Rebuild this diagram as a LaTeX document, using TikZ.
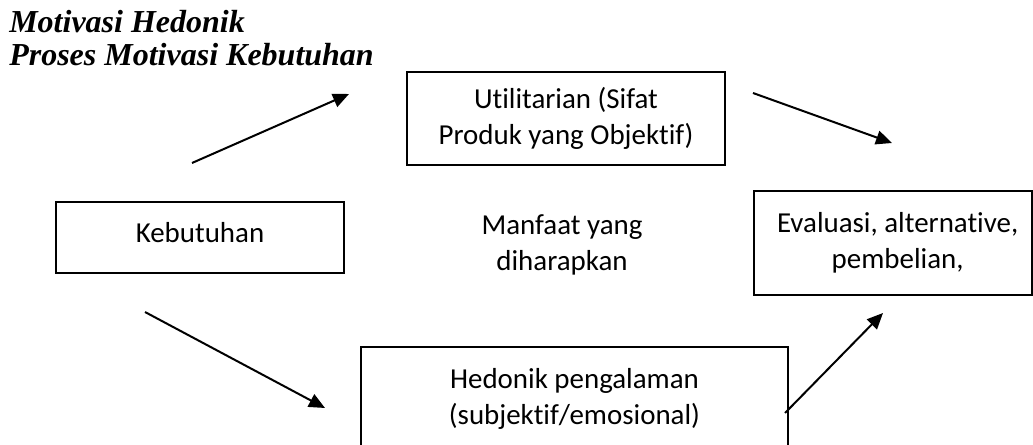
\documentclass[tikz,border=0pt]{standalone}
\usepackage{fontspec}
\setmainfont{Carlito}[RawFeature=-liga]
\newfontfamily\titlefont{Liberation Serif}
\usetikzlibrary{arrows.meta}

\begin{document}
\begin{tikzpicture}[x=0.75pt,y=-0.75pt,
  kotak/.style={draw, line width=1.1pt, rectangle, align=center, inner sep=0pt,
    font=\fontsize{21.7}{27}\selectfont},
  judul/.style={anchor=base west, inner sep=0pt, font=\titlefont\bfseries\itshape\fontsize{24}{25}\selectfont},
  panah/.style={line width=1.5pt, -{Triangle[length=12pt, width=10.5pt]}}]
\clip (0,0) rectangle (1033,445);
\node[judul] (j1) at (9,33) {Motivasi Hedonik};
\node[judul] (j2) at (9,66) {Proses Motivasi Kebutuhan};
\node[kotak, minimum width=216pt, minimum height=53.25pt, text height=15pt, text depth=8pt] (keb) at (200,237.5) {Kebutuhan};
\node[kotak, minimum width=238.5pt, minimum height=69.75pt] (util) at (566,118.5) {Utilitarian (Sifat\\Produk yang Objektif)};
\node[kotak, minimum width=208.5pt, minimum height=78pt] (eval) at (893,243) {\hspace*{7pt}Evaluasi, alternative,\\\hspace*{7pt}pembelian,};
\node[kotak, minimum width=320.25pt, minimum height=77.25pt] (hed) at (574.5,398.5) {Hedonik pengalaman\\(subjektif/emosional)};
\node[kotak, draw=none] (manfaat) at (562,245) {Manfaat yang\\diharapkan};
\coordinate (a1) at (192,163);
\coordinate (b1) at (349,94);
\coordinate (a2) at (753,93);
\coordinate (b2) at (892,143);
\coordinate (a3) at (145,312);
\coordinate (b3) at (325,408);
\coordinate (a4) at (785,413);
\coordinate (b4) at (883,313);
\path[draw,panah] (a1) -- (b1);
\path[draw,panah] (a2) -- (b2);
\path[draw,panah] (a3) -- (b3);
\path[draw,panah] (a4) -- (b4);
\end{tikzpicture}
\end{document}
